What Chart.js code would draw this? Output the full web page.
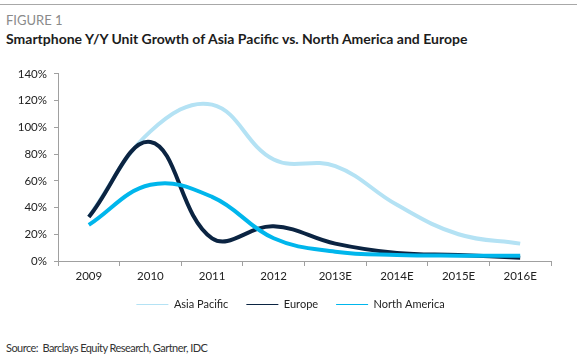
<!DOCTYPE html>
<html>
<head>
<meta charset="utf-8">
<script src="https://cdn.jsdelivr.net/npm/chart.js@4"></script>
<style>
  body { margin: 0; width: 581px; height: 363px; background: #fff; overflow: hidden; position: relative; font-family: Lato, "Open Sans", sans-serif; }
  .rule { position: absolute; top: 4px; left: 0; width: 577px; border-top: 1px solid #a8a8a8; }
  .fig { position: absolute; top: 12px; left: 6px; font-size: 13px; color: #8a8a8a; }
  .title { position: absolute; top: 30px; left: 6px; font-size: 14px; font-weight: bold; color: #1c1c1c; }
  .source { position: absolute; top: 341px; left: 6px; font-size: 11px; letter-spacing: -0.55px; color: #333; }
  #wrap { position: absolute; top: 60px; left: 0; width: 581px; height: 260px; }
</style>
</head>
<body>
<div class="rule"></div>
<div class="fig">FIGURE 1</div>
<div class="title">Smartphone Y/Y Unit Growth of Asia Pacific vs. North America and Europe</div>
<div id="wrap"><canvas id="myChart"></canvas></div>
<div class="source">Source:&nbsp; Barclays Equity Research, Gartner, IDC</div>
<script>
const years = ["2009", "2010", "2011", "2012", "2013E", "2014E", "2015E", "2016E"];
const asiaPacific = [33, 97, 117, 76, 71, 42, 20, 13];
const europe = [33, 89, 17, 26, 13, 6, 4.5, 2.5];
const northAmerica = [27, 57, 48, 17, 7, 4.5, 4, 4];
const yTicks = [0, 20, 40, 60, 80, 100, 120, 140];

document.addEventListener("DOMContentLoaded", () => {
    const axisGrey = "#a0a0a0";
    const tickFont = { family: "Lato", size: 11.5 };

    const ctx = document.getElementById("myChart").getContext("2d");
    new Chart(ctx, {
        type: "line",
        data: {
            labels: years,
            datasets: [{
                label: "Asia Pacific",
                data: asiaPacific,
                borderColor: "#b4e2f4",
                backgroundColor: "#b4e2f4",
                order: 3,
            }, {
                label: "Europe",
                data: europe,
                borderColor: "#0b2442",
                backgroundColor: "#0b2442",
                order: 2,
            }, {
                label: "North America",
                data: northAmerica,
                borderColor: "#00b6ec",
                backgroundColor: "#00b6ec",
                order: 1,
            }],
        },
        options: {
            responsive: true,
            maintainAspectRatio: false,
            animation: false,
            layout: { padding: { top: 8, left: 0, right: 0, bottom: 0 } },
            elements: {
                line: { borderWidth: 4, tension: 0.4 },
                point: { radius: 0, pointStyle: "line" },
            },
            plugins: {
                tooltip: { enabled: false },
                legend: {
                    position: "bottom",
                    labels: {
                        usePointStyle: true,
                        pointStyle: "line",
                        pointStyleWidth: 32,
                        padding: 18,
                        color: "#222",
                        font: { family: "Lato", size: 11 },
                        sort: (a, b) => a.datasetIndex - b.datasetIndex,
                    },
                },
            },
            scales: {
                x: {
                    offset: true,
                    grid: { offset: true, drawOnChartArea: false, tickLength: 5, color: axisGrey },
                    border: { color: axisGrey },
                    ticks: { color: "#222", font: tickFont, padding: 3 },
                    afterFit: (s) => { s.height = 20; },
                },
                y: {
                    min: 0,
                    max: 140,
                    afterBuildTicks: (s) => { s.ticks = yTicks.map((v) => ({ value: v })); },
                    grid: { drawOnChartArea: false, tickLength: 4, color: axisGrey },
                    border: { color: axisGrey },
                    ticks: { color: "#222", font: tickFont, padding: 7, callback: (v) => v + "%" },
                    afterFit: (s) => { s.width = 58; },
                },
                yRight: {
                    position: "right",
                    grid: { display: false },
                    border: { display: false },
                    ticks: { display: false },
                    afterFit: (s) => { s.width = 30; },
                },
            },
        },
    });
});
</script>
</body>
</html>
